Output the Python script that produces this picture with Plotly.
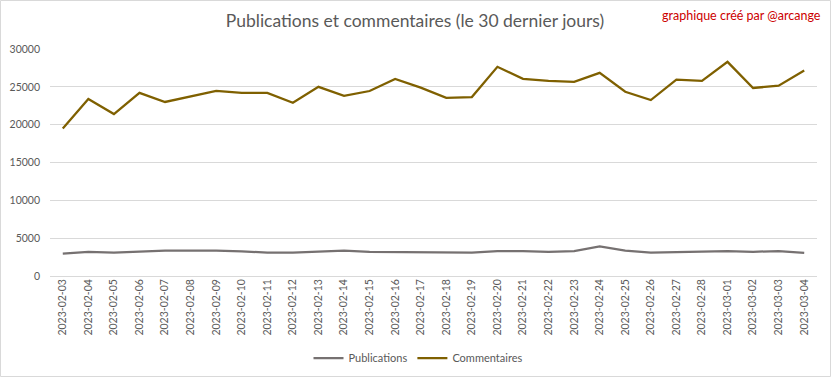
import plotly.graph_objects as go

dates = ["2023-02-03", "2023-02-04", "2023-02-05", "2023-02-06", "2023-02-07", "2023-02-08",
         "2023-02-09", "2023-02-10", "2023-02-11", "2023-02-12", "2023-02-13", "2023-02-14",
         "2023-02-15", "2023-02-16", "2023-02-17", "2023-02-18", "2023-02-19", "2023-02-20",
         "2023-02-21", "2023-02-22", "2023-02-23", "2023-02-24", "2023-02-25", "2023-02-26",
         "2023-02-27", "2023-02-28", "2023-03-01", "2023-03-02", "2023-03-03", "2023-03-04"]

publications = [2950, 3200, 3100, 3250, 3350, 3350, 3350, 3250, 3100, 3100,
                3200, 3350, 3200, 3200, 3200, 3100, 3100, 3300, 3300, 3200,
                3300, 3900, 3350, 3100, 3200, 3200, 3300, 3200, 3300, 3050]

commentaires = [19500, 23400, 21400, 24200, 23000, 23750, 24450, 24200, 24200, 22900,
                25000, 23800, 24450, 26050, 24900, 23550, 23650, 27650, 26050, 25800,
                25650, 26850, 24350, 23250, 25950, 25800, 28300, 24850, 25150, 27150]

y_ticks = [0, 5000, 10000, 15000, 20000, 25000, 30000]

W, H = 832, 378
ML, MR, MT, MB = 50, 15, 49, 102
FONT = "Lato"
TXT = "#595959"

fig = go.Figure()
fig.add_trace(go.Scatter(x=dates, y=publications, name="Publications", mode="lines",
                         line=dict(color="#767171", width=2.25)))
fig.add_trace(go.Scatter(x=dates, y=commentaires, name="Commentaires", mode="lines",
                         line=dict(color="#7F6000", width=2.25)))

pw = W - ML - MR
ph = H - MT - MB
fig.add_shape(type="rect", xref="paper", yref="paper",
              x0=(0.5 - ML) / pw, x1=(W - 1.5 - ML) / pw,
              y0=(H - MB - (H - 1.5)) / ph, y1=(H - MB - 0.5) / ph,
              line=dict(color="#d9d9d9", width=1), fillcolor="rgba(0,0,0,0)", layer="below")

fig.update_layout(
    width=W, height=H,
    margin=dict(l=ML, r=MR, t=MT, b=MB, autoexpand=False),
    paper_bgcolor="white", plot_bgcolor="white",
    font=dict(family=FONT, color=TXT, size=11),
    title=dict(text="Publications et commentaires (le 30 dernier jours)",
               x=415 / W, xref="container", xanchor="center", y=1 - 21 / H, yanchor="middle",
               font=dict(family=FONT, size=17.5, color=TXT, weight=400)),
    showlegend=True,
    legend=dict(orientation="h", x=418 / W, xanchor="center", xref="container",
                y=(H - MB - 358) / ph, yanchor="middle",
                font=dict(family=FONT, size=11, color=TXT), itemwidth=30,
                bgcolor="rgba(0,0,0,0)"),
    xaxis=dict(type="category", range=[-0.5, len(dates) - 0.5], tickangle=-90,
               showgrid=False, showline=False, zeroline=False, ticks="",
               tickfont=dict(family=FONT, size=10.5, color=TXT), fixedrange=True),
    yaxis=dict(range=[0, 30000], tickvals=y_ticks, tickformat="d", showgrid=True,
               gridcolor="#d9d9d9", gridwidth=1, zeroline=True, zerolinecolor="#d9d9d9",
               zerolinewidth=1, showline=False, ticks="", ticklabelstandoff=9,
               tickfont=dict(family=FONT, size=10.5, color=TXT), fixedrange=True),
)

fig.add_annotation(text="graphique créé par @arcange", xref="paper", yref="paper",
                   x=(W - 9 - ML) / pw, xanchor="right", y=(H - MB - 16) / ph, yanchor="middle",
                   showarrow=False, font=dict(family=FONT, size=12.5, color="#CC0000"))

fig.write_html("out.html", config={"displayModeBar": False},
               post_script="document.body.style.margin='0';")
